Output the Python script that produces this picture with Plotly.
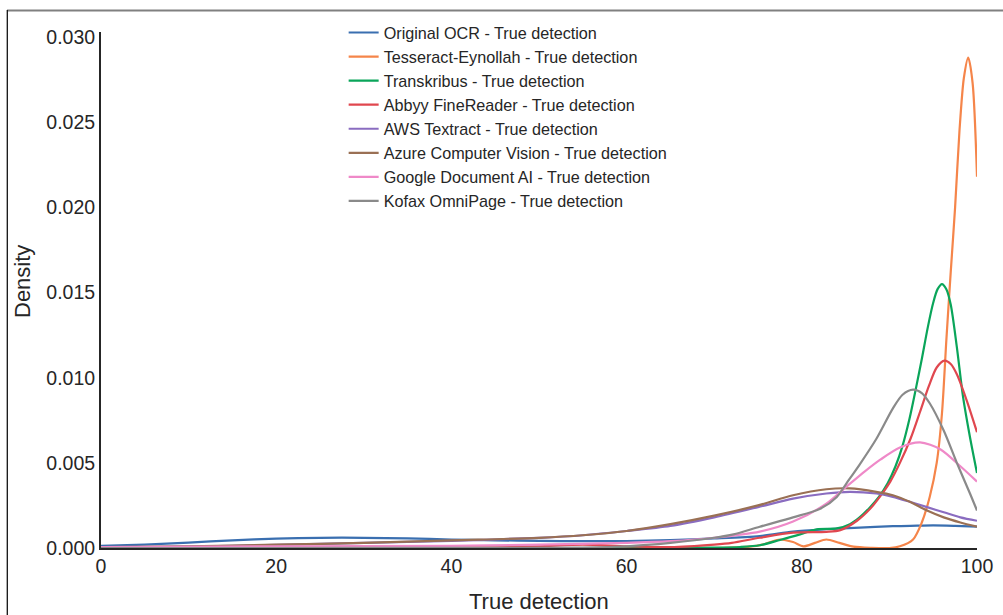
import plotly.graph_objects as go

# ---------------- data ----------------
names = [
    "Original OCR - True detection",
    "Tesseract-Eynollah - True detection",
    "Transkribus - True detection",
    "Abbyy FineReader - True detection",
    "AWS Textract - True detection",
    "Azure Computer Vision - True detection",
    "Google Document AI - True detection",
    "Kofax OmniPage - True detection",
]
colors = ["#3a6fb0", "#f5854a", "#0aa55a", "#e0474f",
          "#8a6cc0", "#9a7054", "#ef89c8", "#8a8a8a"]

ocr_x = [0, 5, 10, 15, 20, 25, 30, 35, 40, 45, 50, 55, 60, 65, 70, 75.2, 79, 82.8, 86.6, 90.4, 92.4, 95, 97.5, 100]
ocr_y = [0.00012, 0.0002, 0.00032, 0.00045, 0.00055, 0.0006, 0.0006, 0.00056, 0.0005, 0.00045, 0.00042, 0.0004,
         0.00041, 0.00047, 0.00056, 0.0007, 0.00096, 0.0011, 0.0012, 0.00128, 0.0013, 0.00133, 0.0013, 0.00125]

tess_x = [0, 20, 40, 60, 70, 72, 74, 75.5, 77.5, 79, 80.2, 81.5, 82.8, 84.3, 85.9, 88, 90, 91.2, 92.7, 93.7,
          94.6, 95.4, 96.0, 96.5, 97.0, 97.5, 98.0, 98.5, 99.0, 99.5, 100]
tess_y = [0, 0, 0, 0, 0, 0.00002, 0.00008, 0.0002, 0.0005, 0.00035, 0.0001, 0.0003, 0.0005, 0.0003, 0.00008,
          0.00001, 0, 0.0001, 0.0005, 0.0015, 0.003, 0.005, 0.0079, 0.0122, 0.0162, 0.02, 0.0245, 0.0276,
          0.0288, 0.0273, 0.0218]

trans_x = [0, 20, 40, 60, 70, 73, 75.2, 77.5, 79.8, 81.7, 84, 85.5, 86.6, 87.8, 88.8, 89.8, 90.7, 91.5, 92.3,
           93.0, 93.7, 94.4, 95.0, 95.5, 96.0, 96.5, 97.0, 97.7, 98.4, 99.2, 100]
trans_y = [0, 0, 0, 0, 0.00002, 0.00006, 0.00016, 0.00047, 0.0008, 0.0011, 0.00115, 0.0014, 0.0018, 0.0024,
           0.003, 0.0038, 0.0048, 0.006, 0.0076, 0.0093, 0.0111, 0.013, 0.0144, 0.0152, 0.0155, 0.0152,
           0.0143, 0.0118, 0.0089, 0.0065, 0.0044]

abbyy_x = [0, 20, 40, 45, 50, 55, 60, 65, 70, 72, 75.2, 79, 82.8, 84.4, 86.3, 87.8, 88.9, 90.1, 91.2, 92.4,
           93.5, 94.5, 95.4, 96.3, 97.0, 97.7, 98.8, 100]
abbyy_y = [0, 0.00001, 0.00002, 0.00004, 0.0001, 0.0002, 0.0001, 0.00005, 0.0002, 0.0003, 0.0006, 0.0009,
           0.00095, 0.00105, 0.0016, 0.0023, 0.003, 0.0039, 0.005, 0.0064, 0.008, 0.0095, 0.0106, 0.011,
           0.0108, 0.0102, 0.0087, 0.0068]

aws_x = [0, 10, 20, 30, 40, 50, 55, 60, 65, 70, 75, 79, 82.8, 85.5, 88.5, 90.4, 92.4, 94.3, 96.2, 98.1, 100]
aws_y = [0.00003, 0.00008, 0.00018, 0.0003, 0.00042, 0.0006, 0.00075, 0.001, 0.0013, 0.0018, 0.0024, 0.0029,
         0.0032, 0.0033, 0.0032, 0.003, 0.0027, 0.0024, 0.0021, 0.0018, 0.0016]

azure_x = [0, 10, 20, 30, 40, 50, 55, 60, 65, 70, 75, 79, 82.8, 85.5, 88.5, 90.4, 92.4, 94.3, 96.2, 98.1, 100]
azure_y = [0.00005, 0.0001, 0.0002, 0.0003, 0.00045, 0.0006, 0.00075, 0.001, 0.0014, 0.0019, 0.0025, 0.0031,
           0.00345, 0.0035, 0.0033, 0.0031, 0.0027, 0.0022, 0.0018, 0.0015, 0.00125]

google_x = [0, 20, 40, 50, 60, 65, 70, 75.2, 79, 82.8, 85.1, 87.2, 89.0, 91.2, 93.5, 95.8, 98.1, 100]
google_y = [0.00005, 0.0001, 0.00013, 0.0002, 0.0003, 0.0004, 0.0006, 0.00096, 0.00155, 0.0026, 0.0036,
            0.0045, 0.0052, 0.0059, 0.0062, 0.0058, 0.0048, 0.0039]

kofax_x = [0, 20, 40, 55, 60, 65, 70, 72.2, 75.2, 79, 82.1, 84, 85.1, 86.6, 88.5, 90.4, 91.5, 92.7, 93.7, 94.6,
           96.2, 97.7, 99.2, 100]
kofax_y = [0, 0, 0.00001, 0.00003, 0.0001, 0.0003, 0.0006, 0.0008, 0.00125, 0.0018, 0.0023, 0.003, 0.0038,
           0.0049, 0.0064, 0.0082, 0.009, 0.0093, 0.0091, 0.0085, 0.0069, 0.005, 0.0032, 0.0022]

xs = [ocr_x, tess_x, trans_x, abbyy_x, aws_x, azure_x, google_x, kofax_x]
ys = [ocr_y, tess_y, trans_y, abbyy_y, aws_y, azure_y, google_y, kofax_y]

y_ticks = [0.0, 0.005, 0.010, 0.015, 0.020, 0.025, 0.030]
x_ticks = [0, 20, 40, 60, 80, 100]

# ---------------- figure ----------------
FONT = "Liberation Sans, Arial, sans-serif"
TXT = "#262626"

fig = go.Figure()
for n, c, x, y in zip(names, colors, xs, ys):
    fig.add_trace(go.Scatter(x=x, y=y, name=n, mode="lines",
                             line=dict(color=c, width=2.2, shape="spline", smoothing=0.8)))

fig.update_layout(
    width=1003, height=615,
    margin=dict(l=101, r=26, t=32, b=67, autoexpand=False),
    paper_bgcolor="white", plot_bgcolor="white",
    font=dict(family=FONT, color=TXT),
    showlegend=True,
    legend=dict(x=0.277, y=1.032, xanchor="left", yanchor="top",
                font=dict(size=16.2, color=TXT, family=FONT),
                bgcolor="rgba(255,255,255,0)", borderwidth=0),
    xaxis=dict(range=[0, 100], tickvals=x_ticks, showgrid=False, zeroline=False,
               showline=True, linecolor=TXT, linewidth=2, ticks="", automargin=False,
               tickfont=dict(size=19.5, color=TXT, family=FONT)),
    yaxis=dict(range=[0, 0.0303], tickvals=y_ticks, tickformat=".3f", showgrid=False, zeroline=False,
               showline=True, linecolor=TXT, linewidth=2, ticks="", automargin=False,
               tickfont=dict(size=19.5, color=TXT, family=FONT)),
    annotations=[
        dict(text="Density", textangle=-90, xref="paper", yref="paper",
             x=(22 - 101) / 876, y=(548 - 282) / 516, xanchor="center", yanchor="middle",
             showarrow=False, font=dict(size=22, color=TXT, family=FONT)),
        dict(text="True detection", xref="paper", yref="paper",
             x=0.5, y=(548 - 601) / 516, xanchor="center", yanchor="middle",
             showarrow=False, font=dict(size=22, color=TXT, family=FONT)),
    ],
    shapes=[
        dict(type="line", xref="paper", yref="paper",
             x0=(7 - 101) / 876, x1=(1010 - 101) / 876, y0=(548 - 10.5) / 516, y1=(548 - 10.5) / 516,
             line=dict(color="#808080", width=2)),
        dict(type="line", xref="paper", yref="paper",
             x0=(7.3 - 101) / 876, x1=(7.3 - 101) / 876, y0=(548 - 10) / 516, y1=(548 - 620) / 516,
             line=dict(color="#111111", width=1.3)),
    ],
)

fig.write_html("out.html", config={"displayModeBar": False},
               post_script="document.body.style.margin='0';document.body.style.overflow='hidden';")
